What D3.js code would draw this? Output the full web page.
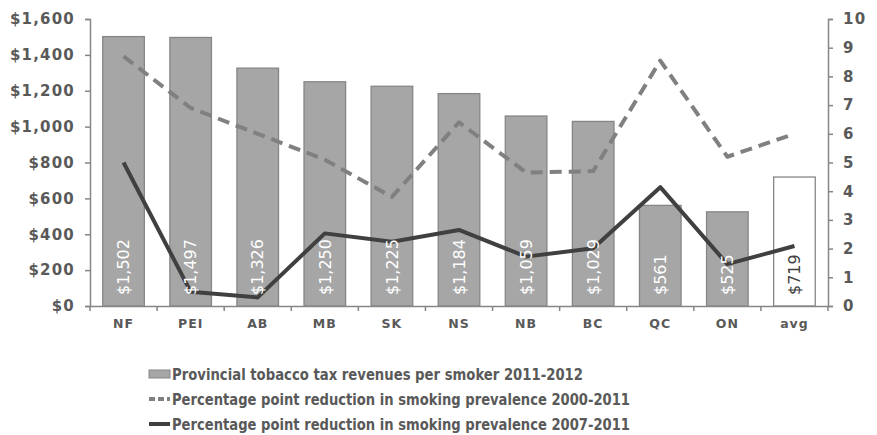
<!DOCTYPE html>
<html>
<head>
<meta charset="utf-8">
<script src="https://cdn.jsdelivr.net/npm/d3@7"></script>
<style>
  html, body { margin: 0; padding: 0; background: #fff; }
  svg { display: block; }
  text { font-family: "DejaVu Sans", Verdana, sans-serif; }
</style>
</head>
<body>
<svg id="chart" width="877" height="435"></svg>
<script>
// Provinces (plus national average)
const provinces = ["NF", "PEI", "AB", "MB", "SK", "NS", "NB", "BC", "QC", "ON", "avg"];
// Provincial tobacco tax revenues per smoker 2011-2012 ($)
const revenuePerSmoker = [1502, 1497, 1326, 1250, 1225, 1184, 1059, 1029, 561, 525, 719];
// Percentage point reduction in smoking prevalence 2000-2011
const reduction2000_2011 = [8.7, 6.9, 6.0, 5.1, 3.8, 6.4, 4.65, 4.7, 8.55, 5.2, 6.0];
// Percentage point reduction in smoking prevalence 2007-2011
const reduction2007_2011 = [5.0, 0.5, 0.3, 2.53, 2.24, 2.65, 1.72, 2.01, 4.14, 1.46, 2.09];
// Axis ticks
const leftTicks = [0, 200, 400, 600, 800, 1000, 1200, 1400, 1600];
const rightTicks = [0, 1, 2, 3, 4, 5, 6, 7, 8, 9, 10];
const legendLabels = [
  "Provincial tobacco tax revenues per smoker 2011-2012",
  "Percentage point reduction in smoking prevalence 2000-2011",
  "Percentage point reduction in smoking prevalence 2007-2011"
];

const svg = d3.select("#chart");
const plot = { left: 90, right: 828, top: 19, bottom: 306 };
const axisColor = "#868686";
const labelColor = "#595959";

const x = d3.scaleBand()
  .domain(provinces)
  .range([plot.left, plot.right])
  .paddingInner(0.38)
  .paddingOuter(0.19);
const yLeft = d3.scaleLinear().domain([0, 1600]).range([plot.bottom, plot.top]);
const yRight = d3.scaleLinear().domain([0, 10]).range([plot.bottom, plot.top]);

// Bars
svg.append("g").selectAll("rect")
  .data(provinces)
  .join("rect")
  .attr("x", d => x(d))
  .attr("width", x.bandwidth())
  .attr("y", (d, i) => yLeft(revenuePerSmoker[i]))
  .attr("height", (d, i) => yLeft(0) - yLeft(revenuePerSmoker[i]))
  .attr("fill", d => d === "avg" ? "#ffffff" : "#a6a6a6")
  .attr("stroke", "#868686")
  .attr("stroke-width", 1.3);

// Lines
const lineGen = d3.line()
  .x(d => x(d.p) + x.bandwidth() / 2)
  .y(d => yRight(d.v));

svg.append("path")
  .datum(provinces.map((p, i) => ({ p, v: reduction2000_2011[i] })))
  .attr("d", lineGen)
  .attr("fill", "none")
  .attr("stroke", "#808080")
  .attr("stroke-width", 4)
  .attr("stroke-dasharray", "12,7")
  .attr("stroke-linejoin", "round");

svg.append("path")
  .datum(provinces.map((p, i) => ({ p, v: reduction2007_2011[i] })))
  .attr("d", lineGen)
  .attr("fill", "none")
  .attr("stroke", "#404040")
  .attr("stroke-width", 4)
  .attr("stroke-linejoin", "round");

// Bar value labels (rotated), drawn above the lines
svg.append("g").selectAll("text")
  .data(provinces)
  .join("text")
  .attr("transform", d => `translate(${x(d) + x.bandwidth() / 2},${plot.bottom - 11}) rotate(-90)`)
  .attr("dy", "0.36em")
  .attr("font-size", 16)
  .attr("fill", d => d === "avg" ? "#404040" : "#ffffff")
  .text((d, i) => d3.format("$,")(revenuePerSmoker[i]));

// Axes
function styleAxis(g) {
  g.selectAll(".domain").attr("stroke", axisColor).attr("stroke-width", 1.5);
  g.selectAll(".tick line").attr("stroke", axisColor).attr("stroke-width", 1.5);
  g.selectAll("text")
    .attr("fill", labelColor)
    .attr("font-family", "'DejaVu Sans', sans-serif")
    .attr("font-weight", "bold")
    .attr("font-size", 15)
    .attr("letter-spacing", 1.2);
}

svg.append("g")
  .attr("transform", `translate(${plot.left},0)`)
  .call(d3.axisLeft(yLeft).tickValues(leftTicks).tickFormat(d3.format("$,")).tickSize(5).tickSizeOuter(5).tickPadding(10))
  .call(styleAxis);

svg.append("g")
  .attr("transform", `translate(${plot.right},0)`)
  .call(d3.axisRight(yRight).tickValues(rightTicks).tickSize(5).tickSizeOuter(5).tickPadding(10))
  .call(styleAxis);

const xAxis = svg.append("g")
  .attr("transform", `translate(0,${plot.bottom})`)
  .call(d3.axisBottom(x).tickSize(0).tickSizeOuter(0).tickPadding(13));
xAxis.call(styleAxis);
xAxis.selectAll("text").attr("font-size", 12.5).attr("letter-spacing", 1);
// Category separator ticks at band boundaries
xAxis.selectAll(".sep")
  .data(d3.range(provinces.length + 1))
  .join("line")
  .attr("class", "sep")
  .attr("x1", i => plot.left + i * x.step())
  .attr("x2", i => plot.left + i * x.step())
  .attr("y1", 0).attr("y2", 5)
  .attr("stroke", axisColor).attr("stroke-width", 1.5);

// Legend
const legend = svg.append("g");
const rowY = [374, 399, 424];
const swatchX = [149, 170];
legend.append("rect")
  .attr("x", swatchX[0]).attr("y", rowY[0] - 4)
  .attr("width", swatchX[1] - swatchX[0]).attr("height", 8)
  .attr("fill", "#a6a6a6").attr("stroke", "#868686").attr("stroke-width", 1);
legend.append("line")
  .attr("x1", swatchX[0]).attr("x2", swatchX[1])
  .attr("y1", rowY[1]).attr("y2", rowY[1])
  .attr("stroke", "#808080").attr("stroke-width", 4).attr("stroke-dasharray", "6,3");
legend.append("line")
  .attr("x1", swatchX[0]).attr("x2", swatchX[1])
  .attr("y1", rowY[2]).attr("y2", rowY[2])
  .attr("stroke", "#404040").attr("stroke-width", 4);
const legendWidths = [411, 458, 458];
legend.selectAll("text")
  .data(legendLabels)
  .join("text")
  .attr("x", 172)
  .attr("y", (d, i) => rowY[i])
  .attr("dy", "0.36em")
  .attr("font-size", 15.5)
  .attr("font-weight", "bold")
  .attr("fill", labelColor)
  .attr("textLength", (d, i) => legendWidths[i])
  .attr("lengthAdjust", "spacingAndGlyphs")
  .text(d => d);
</script>
</body>
</html>
